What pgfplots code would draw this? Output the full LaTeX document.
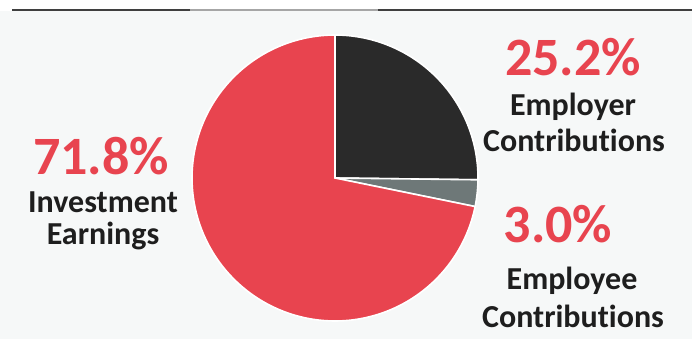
\documentclass[border=0pt]{standalone}
\usepackage{pgfplots}
\pgfplotsset{compat=1.18}
\usepackage{fontspec}
\setmainfont[Ligatures=NoCommon]{Carlito}
\definecolor{pRed}{HTML}{E8444F}
\definecolor{pDark}{HTML}{2A2A2A}
\definecolor{pGray}{HTML}{6E7878}
\definecolor{bgc}{HTML}{F6F8F8}
\definecolor{txt}{HTML}{1E1E1E}
% shares (percent)
\def\pEmployer{25.2}
\def\pEmployee{3.0}
\def\pInvest{71.8}
\pgfmathsetmacro\aA{90}
\pgfmathsetmacro\aB{90-3.6*\pEmployer}
\pgfmathsetmacro\aC{\aB-3.6*\pEmployee}
\pgfmathsetmacro\aD{\aC-3.6*\pInvest}
\begin{document}
\begin{tikzpicture}[x=1pt,y=1pt]
\useasboundingbox (0,0) rectangle (692,339);
\fill[white] (0,0) rectangle (692,339);
\fill[bgc] (0,0) rectangle (692,328);
\draw[line width=2pt,pDark!90] (12,329) -- (190,329);
\draw[line width=2pt,black!35] (190,329) -- (378,329);
\draw[line width=2pt,pDark!90] (378,329) -- (692,329);
\begin{axis}[
  at={(335pt,161pt)}, anchor=center,
  scale only axis, width=286pt, height=286pt,
  xmin=-1, xmax=1, ymin=-1, ymax=1,
  hide axis, clip=false]
\addplot[fill=pDark, draw=white, line width=1.6pt, domain=\aB:\aA, samples=80] ({cos(x)},{sin(x)}) -- (axis cs:0,0) -- cycle;
\addplot[fill=pGray, draw=white, line width=1.6pt, domain=\aC:\aB, samples=10] ({cos(x)},{sin(x)}) -- (axis cs:0,0) -- cycle;
\addplot[fill=pRed, draw=white, line width=1.6pt, domain=\aD:\aC, samples=200] ({cos(x)},{sin(x)}) -- (axis cs:0,0) -- cycle;
\end{axis}
% labels
\node[anchor=base, text=pRed, font=\fontsize{54}{54}\selectfont\bfseries] at (573,339-76) {25.2\%};
\node[anchor=base, text=txt, font=\fontsize{32}{32}\selectfont\bfseries] at (573,339-116) {Employer};
\node[anchor=base, text=txt, font=\fontsize{32}{32}\selectfont\bfseries] at (574,339-152) {Contributions};
\node[anchor=base, text=pRed, font=\fontsize{54}{54}\selectfont\bfseries] at (101,339-175) {71.8\%};
\node[anchor=base, text=txt, font=\fontsize{32}{32}\selectfont\bfseries] at (103,339-213) {Investment};
\node[anchor=base, text=txt, font=\fontsize{32}{32}\selectfont\bfseries] at (103,339-245) {Earnings};
\node[anchor=base, text=pRed, font=\fontsize{54}{54}\selectfont\bfseries] at (558,339-243) {3.0\%};
\node[anchor=base, text=txt, font=\fontsize{32}{32}\selectfont\bfseries] at (572,339-290) {Employee};
\node[anchor=base, text=txt, font=\fontsize{32}{32}\selectfont\bfseries] at (573,339-328) {Contributions};
\end{tikzpicture}
\end{document}
